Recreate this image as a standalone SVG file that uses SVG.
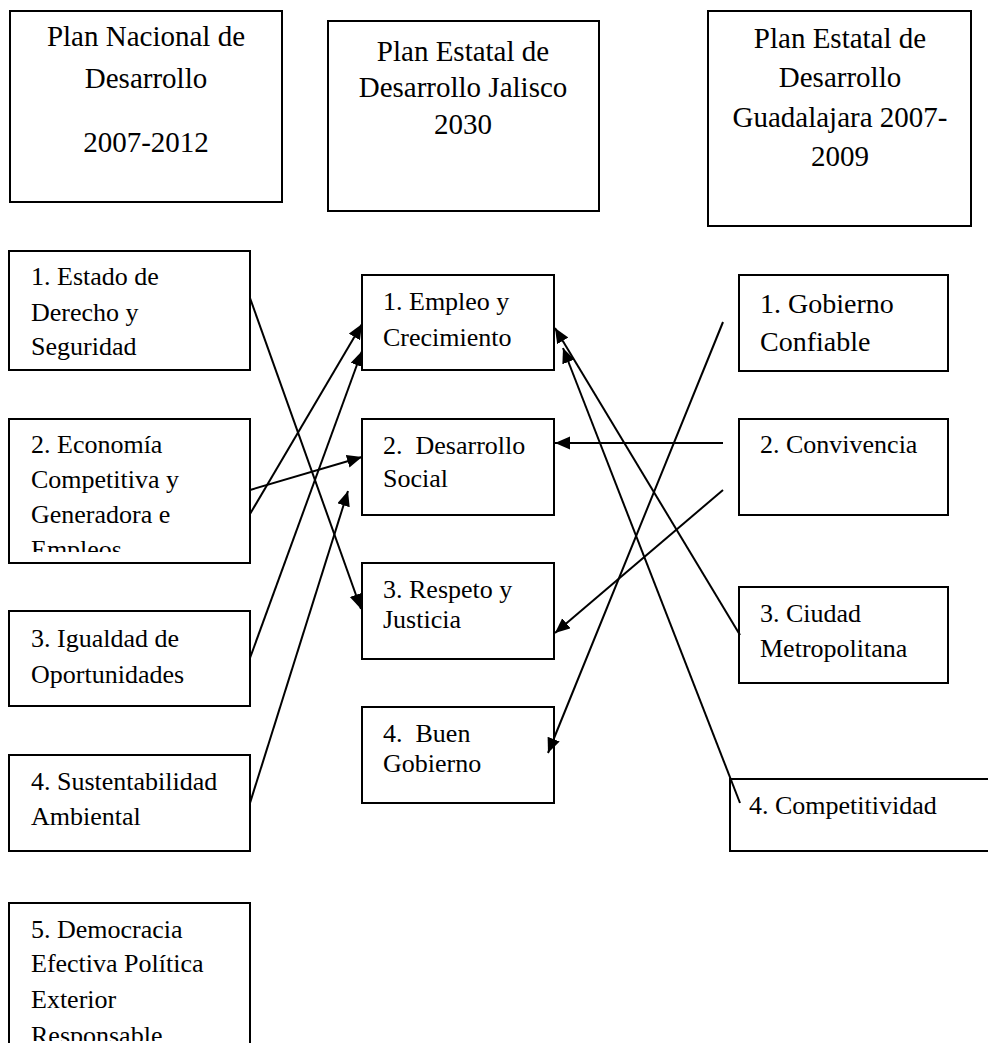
<svg xmlns="http://www.w3.org/2000/svg" width="988" height="1043" viewBox="0 0 988 1043">
<style>
.box{fill:#fff;stroke:#000;stroke-width:2}
.t{font-family:"Liberation Serif","Times New Roman",serif;font-size:26px;fill:#000}
.top{font-family:"Liberation Serif","Times New Roman",serif;font-size:29px;fill:#000;text-anchor:middle}
.c{fill:none;stroke:#000;stroke-width:2}
</style>
<defs>
<marker id="ah" markerUnits="userSpaceOnUse" markerWidth="17" markerHeight="15" refX="15" refY="6.5" orient="auto">
<path d="M0,0 L15,6.5 L0,13 z" fill="#000"/>
</marker>
<clipPath id="clipL2"><rect x="9" y="419" width="241" height="133"/></clipPath>
<clipPath id="clipL5"><rect x="9" y="903" width="241" height="138"/></clipPath>
</defs>
<rect width="988" height="1043" fill="#fff"/>

<g id="top-nacional">
<rect class="box" x="10" y="11" width="272" height="191"/>
<text class="top" x="146" y="46">Plan Nacional de</text>
<text class="top" x="146" y="88">Desarrollo</text>
<text class="top" x="146" y="152">2007-2012</text>
</g>
<g id="top-jalisco">
<rect class="box" x="328" y="21" width="271" height="190"/>
<text class="top" x="463" y="61">Plan Estatal de</text>
<text class="top" x="463" y="97">Desarrollo Jalisco</text>
<text class="top" x="463" y="134">2030</text>
</g>
<g id="top-guadalajara">
<rect class="box" x="708" y="11" width="263" height="215"/>
<text class="top" x="840" y="48">Plan Estatal de</text>
<text class="top" x="840" y="87">Desarrollo</text>
<text class="top" x="840" y="127">Guadalajara 2007-</text>
<text class="top" x="840" y="166">2009</text>
</g>

<g id="L1">
<rect class="box" x="9" y="251" width="241" height="119"/>
<text class="t" x="31" y="285">1. Estado de</text>
<text class="t" x="31" y="321">Derecho y</text>
<text class="t" x="31" y="355">Seguridad</text>
</g>
<g id="L2">
<rect class="box" x="9" y="419" width="241" height="144"/>
<g clip-path="url(#clipL2)">
<text class="t" x="31" y="453">2. Economía</text>
<text class="t" x="31" y="488">Competitiva y</text>
<text class="t" x="31" y="523">Generadora e</text>
<text class="t" x="31" y="558">Empleos</text>
</g>
</g>
<g id="L3">
<rect class="box" x="9" y="611" width="241" height="95"/>
<text class="t" x="31" y="647">3. Igualdad de</text>
<text class="t" x="31" y="683">Oportunidades</text>
</g>
<g id="L4">
<rect class="box" x="9" y="755" width="241" height="96"/>
<text class="t" x="31" y="790">4. Sustentabilidad</text>
<text class="t" x="31" y="825">Ambiental</text>
</g>
<g id="L5">
<rect class="box" x="9" y="903" width="241" height="160"/>
<g clip-path="url(#clipL5)">
<text class="t" x="31" y="938">5. Democracia</text>
<text class="t" x="31" y="972">Efectiva Política</text>
<text class="t" x="31" y="1008">Exterior</text>
<text class="t" x="31" y="1044">Responsable</text>
</g>
</g>

<g id="M1">
<rect class="box" x="362" y="275" width="192" height="95"/>
<text class="t" x="383" y="310">1. Empleo y</text>
<text class="t" x="383" y="346">Crecimiento</text>
</g>
<g id="M2">
<rect class="box" x="362" y="419" width="192" height="96"/>
<text class="t" x="383" y="454" xml:space="preserve">2.  Desarrollo</text>
<text class="t" x="383" y="487">Social</text>
</g>
<g id="M3">
<rect class="box" x="362" y="563" width="192" height="96"/>
<text class="t" x="383" y="598">3. Respeto y</text>
<text class="t" x="383" y="628">Justicia</text>
</g>
<g id="M4">
<rect class="box" x="362" y="707" width="192" height="96"/>
<text class="t" x="383" y="742" xml:space="preserve">4.  Buen</text>
<text class="t" x="383" y="772">Gobierno</text>
</g>

<g id="R1">
<rect class="box" x="739" y="275" width="209" height="96"/>
<text class="t" x="760" y="313" style="font-size:28px">1. Gobierno</text>
<text class="t" x="760" y="351" style="font-size:28px">Confiable</text>
</g>
<g id="R2">
<rect class="box" x="739" y="419" width="209" height="96"/>
<text class="t" x="760" y="453">2. Convivencia</text>
</g>
<g id="R3">
<rect class="box" x="739" y="587" width="209" height="96"/>
<text class="t" x="760" y="622">3. Ciudad</text>
<text class="t" x="760" y="657">Metropolitana</text>
</g>
<g id="R4">
<rect class="box" x="730" y="779" width="270" height="72"/>
<text class="t" x="749" y="814">4. Competitividad</text>
</g>

<g id="connectors">
<line class="c" x1="250" y1="298" x2="361" y2="609" marker-end="url(#ah)"/>
<line class="c" x1="250" y1="514" x2="362" y2="324" marker-end="url(#ah)"/>
<line class="c" x1="250" y1="490" x2="362" y2="457" marker-end="url(#ah)"/>
<line class="c" x1="250" y1="658" x2="362" y2="351" marker-end="url(#ah)"/>
<line class="c" x1="250" y1="803" x2="348" y2="491" marker-end="url(#ah)"/>
<line class="c" x1="723" y1="322" x2="548" y2="753" marker-end="url(#ah)"/>
<line class="c" x1="723" y1="443" x2="555" y2="443" marker-end="url(#ah)"/>
<line class="c" x1="723" y1="490" x2="555" y2="633" marker-end="url(#ah)"/>
<line class="c" x1="740" y1="635" x2="555" y2="328" marker-end="url(#ah)"/>
<line class="c" x1="740" y1="803" x2="563" y2="348" marker-end="url(#ah)"/>
</g>
</svg>
